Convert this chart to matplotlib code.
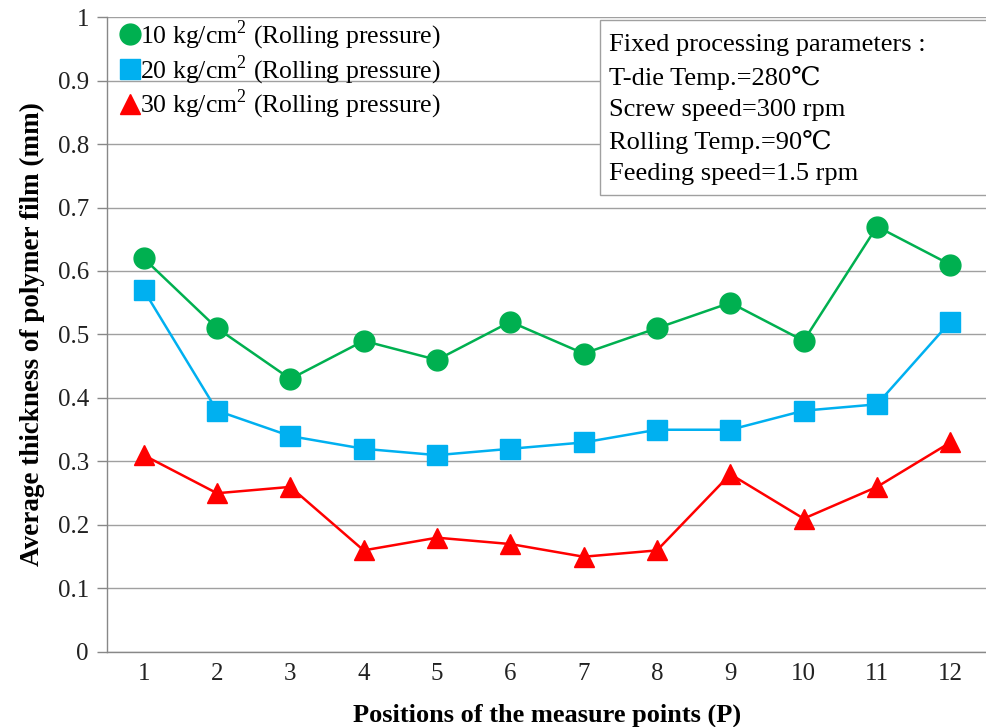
import matplotlib
matplotlib.use("Agg")
import matplotlib.pyplot as plt
from matplotlib.patches import Rectangle

positions = [1, 2, 3, 4, 5, 6, 7, 8, 9, 10, 11, 12]
p10 = [0.62, 0.51, 0.43, 0.49, 0.46, 0.52, 0.47, 0.51, 0.55, 0.49, 0.67, 0.61]
p20 = [0.57, 0.38, 0.34, 0.32, 0.31, 0.32, 0.33, 0.35, 0.35, 0.38, 0.39, 0.52]
p30 = [0.31, 0.25, 0.26, 0.16, 0.18, 0.17, 0.15, 0.16, 0.28, 0.21, 0.26, 0.33]
labels = ["10 kg/cm$^2$ (Rolling pressure)",
          "20 kg/cm$^2$ (Rolling pressure)",
          "30 kg/cm$^2$ (Rolling pressure)"]
yticks = [0, 0.1, 0.2, 0.3, 0.4, 0.5, 0.6, 0.7, 0.8, 0.9, 1]
ytick_labels = ["0", "0.1", "0.2", "0.3", "0.4", "0.5", "0.6", "0.7", "0.8", "0.9", "1"]
note = ("Fixed processing parameters :\nT-die Temp.=280\u2103\nScrew speed=300 rpm\n"
        "Rolling Temp.=90\u2103\nFeeding speed=1.5 rpm")

plt.rcParams['font.family'] = ['Liberation Serif', 'DejaVu Serif']
plt.rcParams['mathtext.fontset'] = 'custom'
plt.rcParams['mathtext.rm'] = 'Liberation Serif'

fig = plt.figure(figsize=(9.87, 7.27), dpi=100)
ax = fig.add_axes([0.1084, 0.1032, 0.8916, 0.8734])

ax.plot(positions, p10, color='#00B050', marker='o', markersize=15, lw=1.8, label=labels[0])
ax.plot(positions, p20, color='#00B0F0', marker='s', markersize=14, lw=1.8, label=labels[1])
ax.plot(positions, p30, color='#FF0000', marker='^', markersize=14, lw=1.8, label=labels[2])

ax.set_xlim(0.5, 12.5)
ax.set_ylim(0, 1)
ax.set_xticks(positions)
ax.set_xticklabels([str(p) for p in positions], fontsize=18)
ax.set_yticks(yticks)
ax.set_yticklabels(ytick_labels, fontsize=18)
ax.tick_params(axis='x', length=0, pad=8, colors='#222222')
ax.tick_params(axis='y', length=7, width=1, color='#888888', labelcolor='#222222', pad=6)
ax.yaxis.grid(True, color='#A0A0A0', lw=1)
ax.set_axisbelow(True)
for s in ['top', 'right']:
    ax.spines[s].set_visible(False)
for s in ['left', 'bottom']:
    ax.spines[s].set_color('#888888')
    ax.spines[s].set_linewidth(1)

ax.set_xlabel("Positions of the measure points (P)", fontsize=19, fontweight='bold', labelpad=13)
ax.set_ylabel("Average thickness of polymer film (mm)", fontsize=19.5, fontweight='bold', labelpad=9)

leg = ax.legend(loc='upper left', bbox_to_anchor=(0.012, 1.006), frameon=False, fontsize=18.5,
                handlelength=0.6, handletextpad=0.08, labelspacing=0.05, borderaxespad=0.0,
                borderpad=0.2, numpoints=1)
for line in leg.get_lines():
    line.set_linestyle('')

ax.add_patch(Rectangle((0.5597, 0.7197), 0.4403, 0.2756, transform=ax.transAxes,
                       facecolor='white', edgecolor='#A0A0A0', lw=1, zorder=3, clip_on=False))
ax.text(0.571, 0.973, note, transform=ax.transAxes, fontsize=19, va='top', ha='left',
        linespacing=1.51, zorder=4)

fig.savefig("out.png", dpi=100)
